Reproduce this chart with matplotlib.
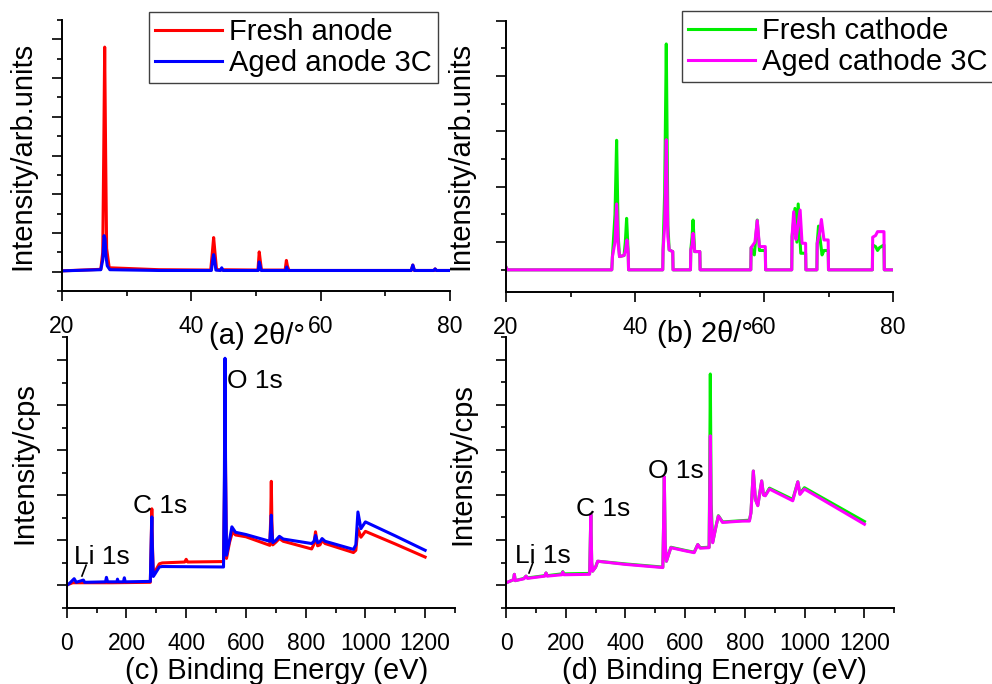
import matplotlib.pyplot as plt
from matplotlib.ticker import FixedLocator, MultipleLocator

plt.rcParams['font.family'] = ['Liberation Sans', 'DejaVu Sans']

# (a) XRD of the anodes, 2theta in degrees, intensity in arb. units
anode_fresh_2t = [20, 26.0, 26.3, 26.45, 26.6, 26.75, 26.9, 27.3, 35, 43.0, 43.25, 43.45, 43.65, 43.9,
                  50.3, 50.5, 50.65, 50.85, 54.5, 54.7, 54.85, 55.1, 74.0, 74.25, 74.5, 77.5, 77.7, 77.9, 80]
anode_fresh_int = [0.02, 0.06, 0.5, 3.0, 5.8, 3.0, 0.6, 0.1, 0.05, 0.04, 0.5, 0.88, 0.5, 0.05,
                   0.04, 0.51, 0.3, 0.04, 0.04, 0.29, 0.15, 0.03, 0.03, 0.17, 0.03, 0.03, 0.07, 0.03, 0.03]
anode_aged_2t = [20, 26.0, 26.3, 26.5, 26.65, 26.8, 27.0, 27.4, 35, 43.1, 43.3, 43.45, 43.6, 43.8,
                 44.5, 44.7, 44.9, 50.35, 50.5, 50.65, 50.8, 54.6, 54.75, 54.9, 74.0, 74.25, 74.5,
                 77.5, 77.7, 77.9, 80]
anode_aged_int = [0.02, 0.05, 0.3, 0.93, 0.85, 0.4, 0.15, 0.05, 0.03, 0.03, 0.3, 0.44, 0.3, 0.04,
                  0.03, 0.1, 0.03, 0.03, 0.25, 0.15, 0.03, 0.03, 0.12, 0.03, 0.03, 0.17, 0.03,
                  0.03, 0.07, 0.03, 0.03]

# (b) XRD of the cathodes
cathode_fresh_2t = [20, 20.2, 36.4, 36.5, 36.9, 37.15, 37.4, 37.6, 38.3, 38.5, 38.7, 38.95, 39.0,
                    44.3, 44.35, 44.6, 44.85, 45.1, 45.3, 45.85, 45.9, 48.6, 48.65, 48.85, 49.0, 49.25,
                    50.05, 50.1, 57.95, 58.0, 58.5, 58.95, 59.3, 60.2, 60.25, 64.3, 64.35, 64.8, 65.1,
                    65.3, 65.7, 65.9, 66.45, 66.5, 68.2, 68.25, 68.45, 69.0, 69.3, 69.95, 70.0, 76.8,
                    76.85, 77.3, 77.6, 77.9, 78.6, 78.65, 80]
cathode_fresh_int = [0.05, 0, 0, 0.24, 1.0, 2.34, 0.6, 0.24, 0.26, 0.5, 0.93, 0.3, 0,
                     0, 0.36, 1.4, 4.08, 0.8, 0.36, 0.33, 0, 0, 0.36, 0.6, 0.9, 0.33,
                     0.33, 0, 0, 0.4, 0.27, 0.9, 0.35, 0.35, 0, 0, 0.6, 1.11, 0.5,
                     1.19, 0.3, 0.3, 0.3, 0, 0, 0.48, 0.79, 0.27, 0.35, 0.35, 0, 0,
                     0.45, 0.42, 0.35, 0.4, 0.45, 0, 0]
cathode_aged_2t = [20, 20.2, 36.4, 36.5, 36.9, 37.15, 37.4, 37.6, 38.3, 38.5, 38.75, 38.95, 39.0,
                   44.3, 44.35, 44.6, 44.85, 45.1, 45.3, 45.85, 45.9, 48.6, 48.65, 48.85, 49.0, 49.25,
                   50.05, 50.1, 57.95, 58.0, 58.6, 58.95, 59.3, 60.2, 60.25, 64.3, 64.35, 64.6, 64.95,
                   65.1, 65.6, 65.9, 66.45, 66.5, 68.2, 68.25, 68.6, 68.9, 69.3, 69.95, 70.0, 76.8,
                   76.85, 77.3, 77.6, 77.9, 78.6, 78.65, 80]
cathode_aged_int = [0.05, 0, 0, 0.24, 0.5, 1.19, 0.45, 0.24, 0.26, 0.33, 0.54, 0.3, 0,
                    0, 0.36, 0.8, 2.35, 0.6, 0.36, 0.33, 0, 0, 0.36, 0.45, 0.66, 0.33,
                    0.33, 0, 0, 0.4, 0.5, 0.89, 0.42, 0.42, 0, 0, 0.6, 1.05, 0.55,
                    0.66, 1.08, 0.48, 0.48, 0, 0, 0.48, 0.65, 0.91, 0.54, 0.54, 0, 0,
                    0.59, 0.62, 0.69, 0.69, 0.69, 0, 0]

# (c) XPS survey of the anodes, binding energy in eV
xps_anode_fresh_ev = [0, 20, 100, 150, 280, 283, 285, 287, 290, 295, 310, 320, 395, 400, 405, 525,
                      528, 530, 532, 535, 545, 555, 565, 600, 680, 683, 685, 687, 690, 700, 712, 725,
                      820, 828, 833, 840, 848, 855, 865, 960, 968, 975, 985, 1000, 1100, 1200]
xps_anode_fresh_cps = [0.01, 0.06, 0.06, 0.06, 0.07, 1.0, 1.70, 0.9, 0.25, 0.3, 0.48, 0.5, 0.52, 0.58,
                       0.52, 0.53, 2.0, 3.96, 2.5, 0.6, 0.95, 1.19, 1.12, 1.08, 0.89, 1.5, 2.31, 1.4,
                       0.9, 0.96, 1.04, 0.98, 0.81, 0.92, 1.19, 0.88, 0.9, 1.0, 0.93, 0.73, 0.78, 1.26,
                       1.07, 1.2, 0.92, 0.63]
xps_anode_aged_ev = [0, 10, 25, 32, 56, 60, 130, 133, 137, 168, 170, 173, 190, 193, 196, 280, 283, 285,
                     287, 290, 295, 310, 320, 525, 528, 530, 532, 535, 545, 553, 565, 600, 680, 683,
                     685, 687, 690, 700, 712, 725, 820, 828, 833, 840, 848, 855, 865, 960, 968, 975,
                     985, 1000, 1100, 1200]
xps_anode_aged_cps = [0.0, 0.05, 0.15, 0.07, 0.12, 0.07, 0.08, 0.18, 0.08, 0.08, 0.14, 0.08, 0.08, 0.17,
                      0.08, 0.09, 1.0, 1.52, 0.8, 0.2, 0.25, 0.41, 0.42, 0.41, 2.5, 5.04, 2.5, 0.67,
                      1.0, 1.30, 1.18, 1.13, 0.98, 1.3, 1.56, 1.2, 0.95, 1.0, 1.09, 1.03, 0.93, 0.98,
                      1.11, 0.95, 0.97, 1.04, 0.98, 0.80, 0.9, 1.63, 1.26, 1.41, 1.1, 0.78]

# (d) XPS survey of the cathodes
xps_cathode_ev = [0, 25, 28, 31, 60, 67, 72, 130, 134, 138, 187, 190, 194, 280, 282, 284, 287, 290,
                  300, 307, 400, 525, 528, 530, 533, 537, 552, 600, 630, 642, 650, 680, 682, 684,
                  687, 692, 703, 711, 725, 790, 815, 820, 828, 835, 843, 856, 862, 868, 882, 960,
                  977, 984, 999, 1200]
xps_cathode_fresh_cps = [0.05, 0.12, 0.24, 0.1, 0.15, 0.2, 0.16, 0.21, 0.27, 0.21, 0.25, 0.3, 0.25,
                         0.26, 0.9, 1.57, 0.5, 0.31, 0.4, 0.53, 0.47, 0.4, 1.5, 2.4, 0.9, 0.53, 0.84,
                         0.77, 0.73, 0.9, 0.83, 0.84, 2.5, 4.68, 1.8, 0.95, 1.3, 1.54, 1.40, 1.43,
                         1.44, 1.6, 2.53, 1.9, 1.77, 2.31, 2.0, 1.99, 2.15, 1.90, 2.29, 2.03, 2.16, 1.41]
xps_cathode_aged_cps = [0.05, 0.12, 0.24, 0.1, 0.14, 0.2, 0.15, 0.2, 0.27, 0.2, 0.23, 0.29, 0.23,
                        0.24, 0.9, 1.57, 0.5, 0.31, 0.4, 0.53, 0.46, 0.39, 1.5, 2.4, 0.9, 0.53, 0.83,
                        0.76, 0.72, 0.9, 0.82, 0.83, 2.0, 3.31, 1.5, 0.94, 1.3, 1.53, 1.39, 1.42,
                        1.42, 1.6, 2.53, 1.9, 1.76, 2.31, 2.0, 1.98, 2.13, 1.87, 2.29, 2.01, 2.13, 1.35]

W, H = 992, 684
fig = plt.figure(figsize=(W / 100, H / 100), dpi=100)


def px_axes(left, top, right, bottom):
    ax = fig.add_axes([left / W, 1 - bottom / H, (right - left) / W, (bottom - top) / H])
    # transparent so the upper x labels are not hidden by the lower panels
    ax.patch.set_visible(False)
    return ax


def style(ax):
    for side in ['top', 'right']:
        ax.spines[side].set_visible(False)
    for side in ['left', 'bottom']:
        ax.spines[side].set_linewidth(1.4)
    ax.tick_params(which='major', direction='out', length=7.5, width=1.2, labelsize=16.5, pad=10)
    ax.tick_params(which='minor', direction='out', length=3.8, width=1.2)
    ax.tick_params(axis='y', labelleft=False)


def ylab(ax, text, x, y):
    ax.set_ylabel(text, fontsize=21)
    ax.yaxis.set_label_coords(x, y)
    ax.yaxis.label.set_va('center')


def xlab(ax, text, x, y):
    ax.set_xlabel(text, fontsize=21)
    ax.xaxis.set_label_coords(x, y)
    ax.xaxis.label.set_va('center')


leg_style = dict(loc='upper left', bbox_transform=fig.transFigure, fontsize=21, fancybox=False,
                 edgecolor='#404040', handlelength=2.3, handletextpad=0.25, borderpad=0.2,
                 labelspacing=0.1, borderaxespad=0, framealpha=1)
LW = 2.2

# ---- (a) anode XRD
ax = px_axes(62, 20, 450, 291)
ax.plot(anode_fresh_2t, anode_fresh_int, color='#ff0000', lw=LW, label='Fresh anode')
ax.plot(anode_aged_2t, anode_aged_int, color='#0000ff', lw=LW, label='Aged anode 3C')
ax.set_xlim(20, 80)
ax.set_ylim(-0.5, 6.5)
ax.xaxis.set_major_locator(FixedLocator([20, 40, 60, 80]))
ax.xaxis.set_minor_locator(FixedLocator([30, 50, 70]))
ax.yaxis.set_major_locator(MultipleLocator(1))
ax.yaxis.set_minor_locator(MultipleLocator(0.5))
style(ax)
ylab(ax, 'Intensity/arb.units', -0.102, 0.5)
xlab(ax, '(a) 2θ/°', 0.503, -0.166)
leg = ax.legend(bbox_to_anchor=(149 / W, 1 - 12 / H), **leg_style)
leg.get_frame().set_linewidth(1.0)

# ---- (b) cathode XRD
ax = px_axes(506, 20.7, 893, 292)
ax.plot(cathode_fresh_2t, cathode_fresh_int, color='#00ee00', lw=LW, label='Fresh cathode')
ax.plot(cathode_aged_2t, cathode_aged_int, color='#ff00ff', lw=LW, label='Aged cathode 3C')
ax.set_xlim(20, 80)
ax.set_ylim(-0.4, 4.5)
ax.xaxis.set_major_locator(FixedLocator([20, 40, 60, 80]))
ax.xaxis.set_minor_locator(FixedLocator([30, 50, 70]))
ax.yaxis.set_major_locator(FixedLocator([0.5, 1.5, 2.5, 3.5, 4.5]))
ax.yaxis.set_minor_locator(FixedLocator([0, 1, 2, 3, 4]))
style(ax)
ylab(ax, 'Intensity/arb.units', -0.119, 0.5)
xlab(ax, '(b) 2θ/°', 0.514, -0.155)
leg = ax.legend(bbox_to_anchor=(682 / W, 1 - 11 / H), **leg_style)
leg.get_frame().set_linewidth(1.0)

# ---- (c) anode XPS
ax = px_axes(66.7, 337.5, 455, 608)
ax.plot(xps_anode_fresh_ev, xps_anode_fresh_cps, color='#ff0000', lw=LW)
ax.plot(xps_anode_aged_ev, xps_anode_aged_cps, color='#0000ff', lw=LW)
ax.set_xlim(0, 1300)
ax.set_ylim(-0.5, 5.5)
ax.xaxis.set_major_locator(FixedLocator(range(0, 1201, 200)))
ax.xaxis.set_minor_locator(MultipleLocator(100))
ax.yaxis.set_major_locator(MultipleLocator(1))
ax.yaxis.set_minor_locator(MultipleLocator(0.5))
style(ax)
ylab(ax, 'Intensity/cps', -0.11, 0.534)
xlab(ax, '(c) Binding Energy (eV)', 0.54, -0.232)
ax.text(538, 4.37, 'O 1s', fontsize=19, ha='left', va='baseline')
ax.text(222, 1.61, 'C 1s', fontsize=19, ha='left', va='baseline')
ax.text(25, 0.48, 'Li 1s', fontsize=19, ha='left', va='baseline')
ax.plot([51, 65], [0.21, 0.45], color='black', lw=1.2)

# ---- (d) cathode XPS
ax = px_axes(506, 337, 894.3, 607.7)
ax.plot(xps_cathode_ev, xps_cathode_fresh_cps, color='#00ee00', lw=LW)
ax.plot(xps_cathode_ev, xps_cathode_aged_cps, color='#ff00ff', lw=LW)
ax.set_xlim(0, 1300)
ax.set_ylim(-0.5, 5.5)
ax.xaxis.set_major_locator(FixedLocator(range(0, 1201, 200)))
ax.xaxis.set_minor_locator(MultipleLocator(100))
ax.yaxis.set_major_locator(MultipleLocator(1))
ax.yaxis.set_minor_locator(MultipleLocator(0.5))
style(ax)
ylab(ax, 'Intensity/cps', -0.113, 0.53)
xlab(ax, '(d) Binding Energy (eV)', 0.538, -0.232)
ax.text(475, 2.38, 'O 1s', fontsize=19, ha='left', va='baseline')
ax.text(234, 1.53, 'C 1s', fontsize=19, ha='left', va='baseline')
ax.text(30, 0.48, 'Li 1s', fontsize=19, ha='left', va='baseline')
ax.plot([77, 90], [0.27, 0.5], color='black', lw=1.2)

fig.savefig('out.png', dpi=100)
